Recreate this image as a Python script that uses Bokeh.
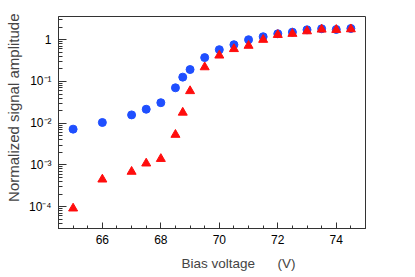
from bokeh.plotting import figure
from bokeh.models import FixedTicker, CustomJSTickFormatter, Title, Range1d
from bokeh.embed import file_html
from bokeh.resources import INLINE

# Data
bias_v = [65, 66, 67, 67.5, 68, 68.5, 68.75, 69, 69.5, 70, 70.5, 71, 71.5, 72, 72.5, 73, 73.5, 74, 74.5]
amp_blue = [0.0072, 0.0104, 0.0158, 0.0216, 0.031, 0.0705, 0.127, 0.193, 0.373, 0.578, 0.76, 1.0,
            1.18, 1.39, 1.52, 1.73, 1.83, 1.76, 1.86]
amp_red = [9.1e-5, 4.5e-4, 6.9e-4, 1.09e-3, 1.4e-3, 5.3e-3, 0.018, 0.059, 0.22, 0.42, 0.60, 0.72,
           1.0, 1.31, 1.39, 1.60, 1.76, 1.73, 1.79]
x_major = [66, 68, 70, 72, 74]
y_major = [1e-4, 1e-3, 1e-2, 1e-1, 1]

FONT = "Liberation Sans"
AX = "#333333"

p = figure(width=415, height=277, output_backend="svg", toolbar_location=None,
           y_axis_type="log",
           x_range=Range1d(64.5, 75.0), y_range=Range1d(3e-5, 3.6),
           min_border_left=58, min_border_right=50, min_border_top=16, min_border_bottom=48)
p.grid.visible = False
p.background_fill_color = "white"
p.border_fill_color = "white"
p.outline_line_color = AX
p.outline_line_width = 1

x_minor = [64.5 + 0.5 * i for i in range(22)]
y_minor = [m * 10.0 ** e for e in range(-5, 1) for m in range(1, 10)]
p.xaxis.ticker = FixedTicker(ticks=x_major, minor_ticks=x_minor)
p.yaxis.ticker = FixedTicker(ticks=y_major, minor_ticks=y_minor)

p.yaxis.formatter = CustomJSTickFormatter(code="""
const e = Math.round(Math.log10(tick));
if (e === 0) return "1";
const sup = {"-":"\u207b","0":"\u2070","1":"\u00b9","2":"\u00b2","3":"\u00b3","4":"\u2074","5":"\u2075","6":"\u2076","7":"\u2077","8":"\u2078","9":"\u2079"};
return "10" + String(e).split("").map(c => sup[c]).join("");
""")

for ax in (p.xaxis, p.yaxis):
    ax.axis_line_color = AX
    ax.major_tick_line_color = AX
    ax.minor_tick_line_color = AX
    ax.major_tick_out = 0
    ax.minor_tick_out = 0
    ax.major_label_text_font = FONT
    ax.major_label_text_font_size = "12px"
    ax.major_label_text_color = "black"

p.xaxis.major_tick_in = 6
p.xaxis.minor_tick_in = 3
p.yaxis.major_tick_in = 8
p.yaxis.minor_tick_in = 4
p.xaxis.major_label_standoff = 6
p.yaxis.major_label_standoff = 7

p.scatter(bias_v, amp_blue, marker="circle", size=8, fill_color="#1f4fff", line_color="#1f4fff")
p.scatter(bias_v, amp_red, marker="triangle", size=9, fill_color="#ff0d0d", line_color="#ff0d0d")

xt = Title(text="Bias voltage\u00a0\u00a0\u00a0\u00a0\u00a0\u00a0(V)", align="right", offset=70,
           text_font=FONT, text_font_size="13.5px", text_font_style="normal", standoff=14)
p.add_layout(xt, "below")
yt = Title(text="Normalized signal amplitude", align="right", offset=-3, vertical_align="top",
           text_font=FONT, text_font_size="15px", text_font_style="normal", standoff=4)
p.add_layout(yt, "left")

open("out.html", "w").write(file_html(p, INLINE))
